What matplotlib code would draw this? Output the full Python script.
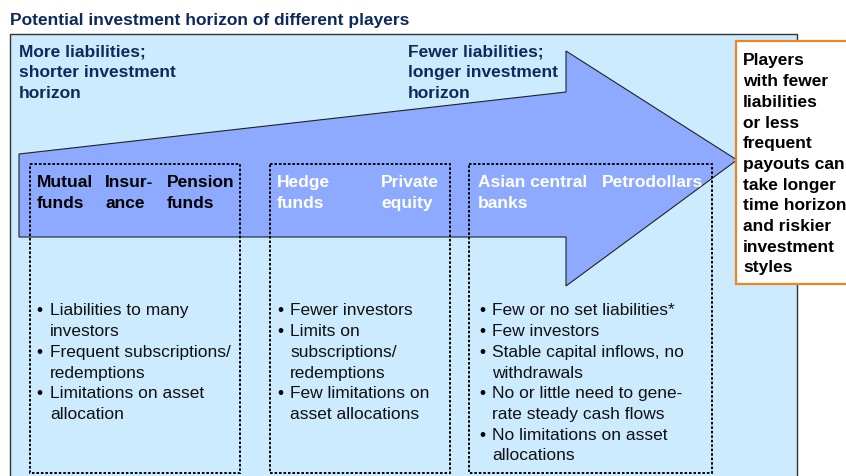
import matplotlib.pyplot as plt
from matplotlib.patches import Rectangle, Polygon

# texts
title = "Potential investment horizon of different players"
left_note = ["More liabilities;", "shorter investment", "horizon"]
right_note = ["Fewer liabilities;", "longer investment", "horizon"]
side_note = ["Players", "with fewer", "liabilities", "or less", "frequent",
             "payouts can", "take longer", "time horizon", "and riskier",
             "investment", "styles"]

group1_players = [["Mutual", "funds"], ["Insur-", "ance"], ["Pension", "funds"]]
group2_players = [["Hedge", "funds"], ["Private", "equity"]]
group3_players = [["Asian central", "banks"], ["Petrodollars"]]

group1_bullets = [["Liabilities to many", "investors"],
                  ["Frequent subscriptions/", "redemptions"],
                  ["Limitations on asset", "allocation"]]
group2_bullets = [["Fewer investors"],
                  ["Limits on", "subscriptions/", "redemptions"],
                  ["Few limitations on", "asset allocations"]]
group3_bullets = [["Few or no set liabilities*"],
                  ["Few investors"],
                  ["Stable capital inflows, no", "withdrawals"],
                  ["No or little need to gene-", "rate steady cash flows"],
                  ["No limitations on asset", "allocations"]]

navy = "#0E2A5C"
light_blue = "#CCEBFF"
arrow_blue = "#8EAAFF"
orange = "#F08424"
font = "Liberation Sans"
fs = 12.5
lh = 20.7  # line height in px

fig = plt.figure(figsize=(8.46, 4.77), dpi=100)
ax = fig.add_axes([0, 0, 1, 1])
ax.set_xlim(0, 846)
ax.set_ylim(477, 0)
ax.axis("off")

ax.text(10, 20, title, fontsize=fs, fontweight="bold", color=navy,
        family=font, va="center", ha="left")

# main background box
ax.add_patch(Rectangle((10, 35), 787, 460, facecolor=light_blue,
                       edgecolor="#333333", lw=1.0))

# big arrow
arrow = [(19, 155), (566, 93), (566, 52), (737, 161), (566, 287),
         (566, 238), (19, 238)]
ax.add_patch(Polygon(arrow, closed=True, facecolor=arrow_blue,
                     edgecolor="#222222", lw=0.8))


def lines(x, y0, rows, **kw):
    for i, row in enumerate(rows):
        ax.text(x, y0 + i * lh, row, fontsize=fs, family=font,
                va="center", ha="left", **kw)


lines(19, 52, left_note, fontweight="bold", color=navy)
lines(408, 52, right_note, fontweight="bold", color=navy)

# orange side box
ax.add_patch(Rectangle((736, 42), 115, 243, facecolor="white",
                       edgecolor=orange, lw=1.6))
lines(743, 61, side_note, fontweight="bold", color="black")

# dashed group boxes
for x0, x1 in [(30, 240), (270, 450), (469, 712)]:
    ax.add_patch(Rectangle((x0, 165), x1 - x0, 309, fill=False,
                           edgecolor="black", lw=1.4, ls=(0, (1.3, 1.0))))

for x, rows in zip([37, 105, 167], group1_players):
    lines(x, 183, rows, fontweight="bold", color="black")
for x, rows in zip([277, 381], group2_players):
    lines(x, 183, rows, fontweight="bold", color="white")
for x, rows in zip([478, 602], group3_players):
    lines(x, 183, rows, fontweight="bold", color="white")


def bullets(xb, xt, y0, items):
    y = y0
    for item in items:
        ax.text(xb, y, "\u2022", fontsize=fs, family=font, va="center",
                ha="left", color="black")
        for row in item:
            ax.text(xt, y, row, fontsize=fs, family=font, va="center",
                    ha="left", color="#111111")
            y += lh


bullets(36, 50, 311, group1_bullets)
bullets(277, 290, 311, group2_bullets)
bullets(479, 492, 311, group3_bullets)

fig.savefig("out.png", dpi=100)
